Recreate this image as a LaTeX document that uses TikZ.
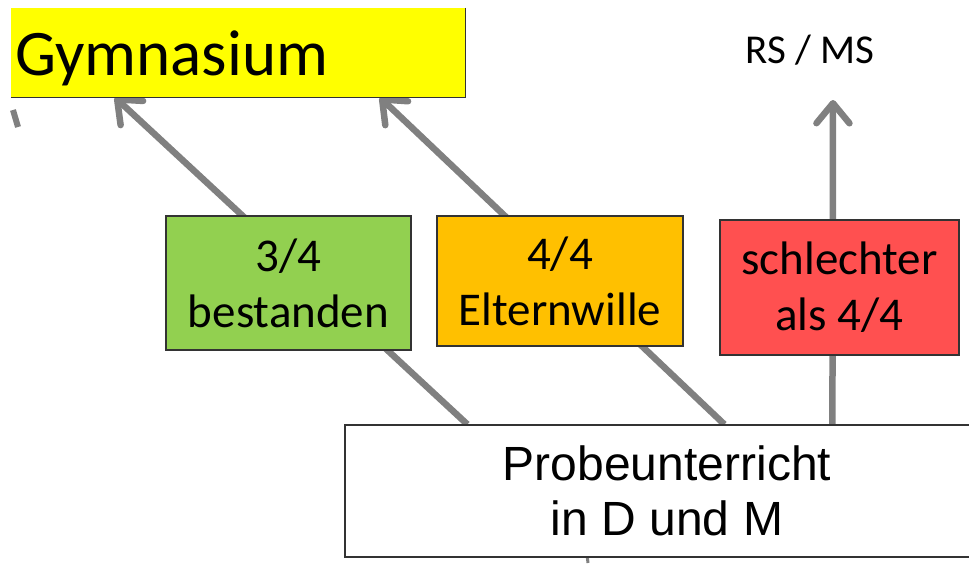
\documentclass[tikz,border=0pt]{standalone}
\usepackage{fontspec}
\setmainfont{Carlito}
\newfontfamily\arialfont{Liberation Sans}
\usepackage{xcolor}
\usetikzlibrary{arrows.meta, backgrounds, positioning}

\definecolor{gymyellow}{RGB}{255,255,0}
\definecolor{passgreen}{RGB}{146,208,80}
\definecolor{willorange}{RGB}{255,192,0}
\definecolor{failred}{RGB}{255,80,80}
\definecolor{routegray}{RGB}{128,128,128}

\begin{document}
\begin{tikzpicture}[x=1pt, y=-1pt,
    box/.style={draw=black!80, line width=1.2pt, inner sep=0pt, align=center,
      font=\fontsize{47}{56}\selectfont},
    route/.style={draw=routegray, line width=6.5pt,
      -{Straight Barb[length=20pt, width=33pt, round]}},
    stub/.style={draw=routegray, line width=6pt}]
          \useasboundingbox (0,0) rectangle (969,563);

          % Zielschulen
          \node[fill=gymyellow, inner sep=0pt, minimum width=454pt, minimum height=89pt,
                text width=446pt, text height=55pt, text depth=10pt, align=left,
                font=\fontsize{65}{70}\selectfont]
                (gym) at (238,52.5) {Gymnasium};
          \draw[black!80, line width=1.2pt] (gym.north east) -- (gym.south east) -- (gym.south west);
          \node[font=\fontsize{41}{47}\selectfont, inner sep=0pt] (rsms) at (810,50) {RS / MS};

          % Ergebnisse
          \node[box, fill=passgreen, minimum width=245pt, minimum height=134pt]
                (pass) at (288.5,283) {3/4\\bestanden};
          \node[box, fill=willorange, minimum width=246pt, minimum height=130pt]
                (will) at (560,281) {4/4\\Elternwille};
          \node[box, fill=failred, minimum width=239pt, minimum height=135pt]
                (fail) at (839.5,287.5) {schlechter\\als 4/4};

          % Probeunterricht
          \node[box, fill=white, minimum width=644pt, minimum height=132pt,
                font=\arialfont\fontsize{48}{55}\selectfont]
                (probe) at (667,491) {Probeunterricht\\in D und M};

          \coordinate (rstip) at (833,100);
          \coordinate (leftA) at (13,110);
          \coordinate (leftB) at (18,127);
          \coordinate (downend) at (588,563);

          \begin{pgfonlayer}{background}
            \draw[route] ([xshift=123pt]probe.north west) -- ([xshift=104pt]gym.south west);
            \draw[route] ([xshift=380pt]probe.north west) -- ([xshift=369pt]gym.south west);
            \draw[route] ([xshift=488pt]probe.north west) -- (rstip);
            \draw[stub] (leftA) -- (leftB);
            \draw[routegray, line width=3pt] ([xshift=243pt]probe.south west) -- (downend);
          \end{pgfonlayer}
        \end{tikzpicture}
\end{document}
